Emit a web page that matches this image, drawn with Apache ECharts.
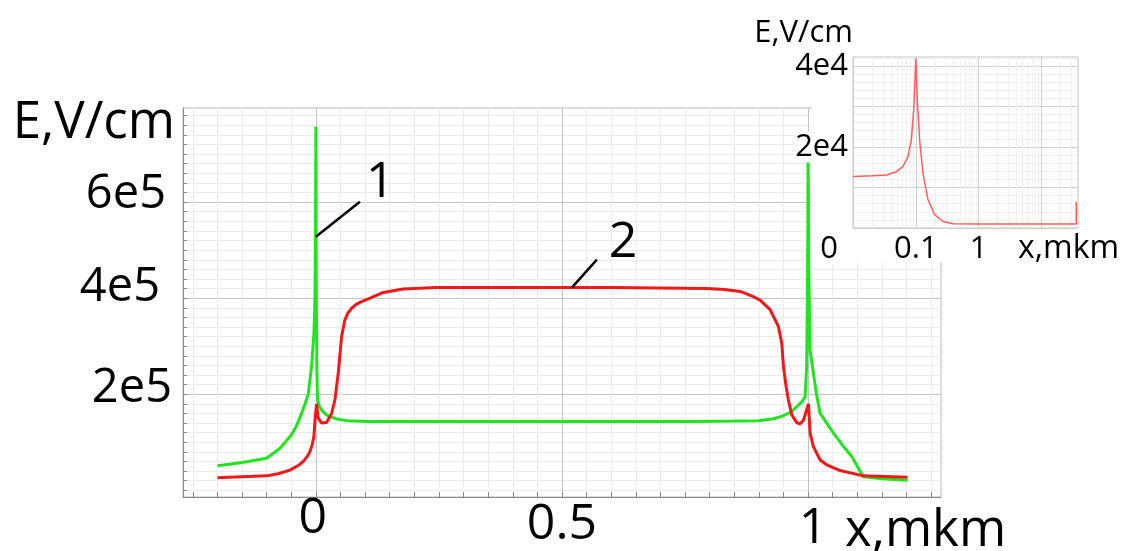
<!DOCTYPE html>
<html>
<head>
<meta charset="utf-8">
<script src="https://cdn.jsdelivr.net/npm/echarts@6/dist/echarts.min.js"></script>
<style>
html,body{margin:0;padding:0;background:#fff;}
#chart{width:1126px;height:551px;}
</style>
</head>
<body>
<div id="chart"></div>
<script>
// ---------- DATA ----------
// Curve 1 (green): x in mkm, E in V/cm
const x1 = [-0.2,-0.15,-0.1,-0.073,-0.05,-0.04,-0.029,-0.022,-0.0156,-0.0088,-0.004,-0.002,-0.0008,0,0.0008,0.002,0.0034,0.007,0.0116,0.02,0.0285,0.045,0.0626,0.11,0.3,0.5,0.7,0.78,0.85,0.899,0.93,0.949,0.965,0.977,0.988,0.994,0.997,0.9986,0.9995,1.0,1.0015,1.004,1.0108,1.017,1.0244,1.0515,1.072,1.089,1.112,1.15,1.202];
const e1 = [51000,58000,66700,87500,115000,133000,160000,180000,200000,258000,327000,396000,520000,757000,420000,250000,188000,175000,167000,158000,153000,148000,145000,143000,143000,143000,143000,143000,144000,145000,149000,155000,163000,174000,185000,195000,258000,396000,550000,720000,450000,292000,244000,200000,160000,119000,91000,70000,28000,24000,21000];
// Curve 2 (red)
const x2 = [-0.2,-0.15,-0.1,-0.075,-0.0528,-0.035,-0.0258,-0.018,-0.0122,-0.0075,-0.0041,-0.0014,0.0014,0.0047,0.0116,0.0217,0.0319,0.0386,0.0454,0.0522,0.0589,0.065,0.0726,0.082,0.093,0.11,0.137,0.177,0.245,0.4,0.6,0.794,0.83,0.862,0.885,0.9024,0.9228,0.9397,0.9465,0.9499,0.9553,0.96,0.9668,0.977,0.9837,0.9905,1.0007,1.0041,1.0108,1.0244,1.038,1.065,1.112,1.202];
const e2 = [26000,28000,30000,35000,42000,52000,60000,70000,80000,95000,112000,153000,180000,150000,140000,141000,160000,188000,244000,320000,355000,369000,379000,387000,393000,400000,412000,419000,422000,422000,422000,420000,418000,414000,405000,396000,376000,341000,306000,258000,216000,188000,157000,141000,138000,146000,180000,119000,91000,63000,53000,41000,30000,27000];
// Inset (red, log x)
const xIn = [0.01,0.02,0.034,0.049,0.0624,0.0749,0.0847,0.0923,0.1,0.1056,0.1148,0.1297,0.1557,0.199,0.27,0.389,1,10,35.6,35.6];
const eIn = [12700,12900,13100,13900,15200,17600,21700,29100,41800,31600,21700,13500,7000,3300,1600,1050,1000,1000,1000,6500];

// Tick labels
const mainXTicks = [0, 0.5, 1];
const mainXLabels = ['0', '0.5', '1'];
const mainYTicks = [200000, 400000, 600000];
const mainYLabels = ['2e5', '4e5', '6e5'];
const insetXTicks = [0.1, 1];
const insetXLabels = ['0.1', '1'];
const insetYTicks = [0, 20000, 40000];
const insetYLabels = ['0', '2e4', '4e4'];
const axisTitleY = 'E,V/cm';
const axisTitleX = 'x,mkm';
const curveLabels = ['1', '2'];

// ---------- styling helpers ----------
const FONT = 'Open Sans';
const mainXGrid = []; for (let k = -25; k <= 125; k += 5) mainXGrid.push(k / 100);
const mainYGrid = []; for (let k = 0; k <= 780000; k += 20000) mainYGrid.push(k);
const insetXGrid = [];
[0.01, 0.1, 1, 10].forEach(d => { for (let k = 1; k <= 9; k++) { const v = +(d * k).toPrecision(3); if (v <= 38) insetXGrid.push(v); } });
const insetYGrid = []; for (let k = 0; k <= 42000; k += 2000) insetYGrid.push(k);

const MAJ = '#c3c3c3', MIN = '#ebebeb';
const near = (a, b) => Math.abs(a - b) < 1e-9 * Math.max(1, Math.abs(b));
const mainXColors = mainXGrid.map(v => mainXTicks.some(t => near(v, t)) ? MAJ : MIN);
const mainYColors = mainYGrid.map(v => mainYTicks.some(t => near(v, t)) ? MAJ : MIN);
const insetXColors = insetXGrid.map(v => [0.01, 0.1, 1, 10].some(t => near(v, t)) ? '#cfcfcf' : '#f0f0f0');
const insetYColors = insetYGrid.map(v => (v % 10000 === 0) ? '#cfcfcf' : '#f0f0f0');

// per-label nudges (style tokens, keyed by label index)
const mainXRich = {
  t0: {fontFamily: FONT, fontSize: 50, color: '#000', padding: [0, 6, 0, 0]},
  t1: {fontFamily: FONT, fontSize: 50, color: '#000', padding: [6, 0, 0, 0]},
  t2: {fontFamily: FONT, fontSize: 50, color: '#000', padding: [10, 0, 0, 10]}
};
const mainYRich = {
  t0: {fontFamily: FONT, fontSize: 47, color: '#000', padding: [0, 0, 11, 0]},
  t1: {fontFamily: FONT, fontSize: 47, color: '#000', padding: [0, 12, 22, 0]},
  t2: {fontFamily: FONT, fontSize: 47, color: '#000', padding: [0, 6, 15, 0]}
};
const richLbl = (ticks, labels) => v => { const i = ticks.findIndex(t => near(v, t)); return i >= 0 ? '{t' + i + '|' + labels[i] + '}' : ''; };
const lbl = (ticks, labels) => v => { const i = ticks.findIndex(t => near(v, t)); return i >= 0 ? labels[i] : ''; };

const chart = echarts.init(document.getElementById('chart'), null, {renderer: 'canvas'});

const option = {
  animation: false,
  backgroundColor: '#fff',
  textStyle: {fontFamily: FONT, color: '#000'},
  grid: [
    {left: 183, right: 185, top: 108, bottom: 54, show: true, borderColor: '#b8b8b8', borderWidth: 1, backgroundColor: 'transparent', containLabel: false, outerBoundsMode: 'none', z: 0},
    {left: 853, right: 48, top: 57, bottom: 323, show: true, borderColor: '#c4c4c4', borderWidth: 1, backgroundColor: '#fff', containLabel: false, outerBoundsMode: 'none', z: 9}
  ],
  xAxis: [
    {
      type: 'value', gridIndex: 0, min: -0.27, max: 1.27,
      name: '{n|' + axisTitleX + '}', nameLocation: 'end', nameGap: -96,
      nameTextStyle: {fontFamily: FONT, fontSize: 51, color: '#000', rich: {n: {fontFamily: FONT, fontSize: 51, color: '#000', padding: [68, 0, 0, 0]}}},
      axisLine: {show: true, onZero: false, lineStyle: {color: '#8a8a8a', width: 1}},
      axisTick: {show: true, inside: true, length: 5, customValues: mainXGrid, lineStyle: {color: '#8a8a8a'}},
      minorTick: {show: false},
      splitLine: {show: true, lineStyle: {color: mainXColors, width: 1}},
      axisLabel: {show: true, customValues: mainXTicks, formatter: richLbl(mainXTicks, mainXLabels), rich: mainXRich, fontFamily: FONT, fontSize: 50, color: '#000', margin: -3}
    },
    {
      type: 'log', logBase: 10, gridIndex: 1, min: 0.01, max: 38, z: 10,
      name: '{n|' + axisTitleX + '}', nameLocation: 'end', nameGap: -60,
      nameTextStyle: {fontFamily: FONT, fontSize: 32, color: '#000', rich: {n: {fontFamily: FONT, fontSize: 32, color: '#000', padding: [42, 0, 0, 0]}}},
      axisLine: {show: false},
      axisTick: {show: false, customValues: insetXGrid},
      splitLine: {show: true, lineStyle: {color: insetXColors, width: 1}},
      axisLabel: {show: true, customValues: insetXTicks, formatter: lbl(insetXTicks, insetXLabels), fontFamily: FONT, fontSize: 31, color: '#000', margin: 6}
    }
  ],
  yAxis: [
    {
      type: 'value', gridIndex: 0, min: -14000, max: 796000,
      name: '{n|' + axisTitleY + '}', nameLocation: 'end', nameGap: -15,
      nameTextStyle: {fontFamily: FONT, fontSize: 51, color: '#000', align: 'right', verticalAlign: 'middle', rich: {n: {fontFamily: FONT, fontSize: 51, color: '#000', padding: [0, 8, 0, 0]}}},
      axisLine: {show: true, onZero: false, lineStyle: {color: '#8a8a8a', width: 1}},
      axisTick: {show: true, inside: true, length: 4, customValues: mainYGrid, lineStyle: {color: '#8a8a8a'}},
      splitLine: {show: true, lineStyle: {color: mainYColors, width: 1}},
      axisLabel: {show: true, customValues: mainYTicks, formatter: richLbl(mainYTicks, mainYLabels), rich: mainYRich, fontFamily: FONT, fontSize: 47, color: '#000', margin: 11}
    },
    {
      type: 'value', gridIndex: 1, min: 0, max: 42200, z: 10,
      name: axisTitleY, nameLocation: 'end', nameGap: 24,
      nameTextStyle: {fontFamily: FONT, fontSize: 31, color: '#000', align: 'right', verticalAlign: 'middle'},
      axisLine: {show: false},
      axisTick: {show: false, customValues: insetYGrid},
      splitLine: {show: true, lineStyle: {color: insetYColors, width: 1}},
      axisLabel: {
        show: true, customValues: insetYTicks, fontFamily: FONT, fontSize: 31, color: '#000', margin: 5,
        backgroundColor: '#fff',
        formatter: v => { const s = lbl(insetYTicks, insetYLabels)(v); return near(v, 0) ? '{z|' + s + '}' : s; },
        rich: {z: {fontFamily: FONT, fontSize: 31, color: '#000', padding: [42, 10, 0, 0]}}
      }
    }
  ],
  series: [
    {type: 'line', name: '1', xAxisIndex: 0, yAxisIndex: 0, data: x1.map((x, i) => [x, e1[i]]), showSymbol: false, symbol: 'none', lineStyle: {color: '#1ee51e', width: 3}, itemStyle: {color: '#1ee51e'}, z: 3},
    {type: 'line', name: '2', xAxisIndex: 0, yAxisIndex: 0, data: x2.map((x, i) => [x, e2[i]]), showSymbol: false, symbol: 'none', lineStyle: {color: '#f01818', width: 3}, itemStyle: {color: '#f01818'}, z: 4},
    {type: 'line', name: 'inset', xAxisIndex: 1, yAxisIndex: 1, data: xIn.map((x, i) => [x, eIn[i]]), showSymbol: false, symbol: 'none', lineStyle: {color: '#ff5c5c', width: 1.5}, itemStyle: {color: '#ff5c5c'}, z: 11}
  ]
};
chart.setOption(option);

// white panel behind the inset, and annotation leaders anchored on the curves
const a1 = chart.convertToPixel({gridIndex: 0}, [0, 528000]);
const a2 = chart.convertToPixel({gridIndex: 0}, [0.52, 422000]);
chart.setOption({
  graphic: [
    {type: 'rect', z: 5, silent: true, shape: {x: 812, y: 0, width: 314, height: 262}, style: {fill: '#fff'}},
    {type: 'line', z: 20, shape: {x1: a1[0], y1: a1[1], x2: a1[0] + 44, y2: a1[1] - 35}, style: {stroke: '#000', lineWidth: 2.5}},
    {type: 'text', z: 20, x: a1[0] + 50, y: a1[1] - 54, style: {text: curveLabels[0], font: '50px "Open Sans"', fill: '#000', textAlign: 'left', textVerticalAlign: 'middle'}},
    {type: 'line', z: 20, shape: {x1: a2[0], y1: a2[1], x2: a2[0] + 25, y2: a2[1] - 28}, style: {stroke: '#000', lineWidth: 2.5}},
    {type: 'text', z: 20, x: a2[0] + 37, y: a2[1] - 45, style: {text: curveLabels[1], font: '50px "Open Sans"', fill: '#000', textAlign: 'left', textVerticalAlign: 'middle'}}
  ]
});
</script>
</body>
</html>
